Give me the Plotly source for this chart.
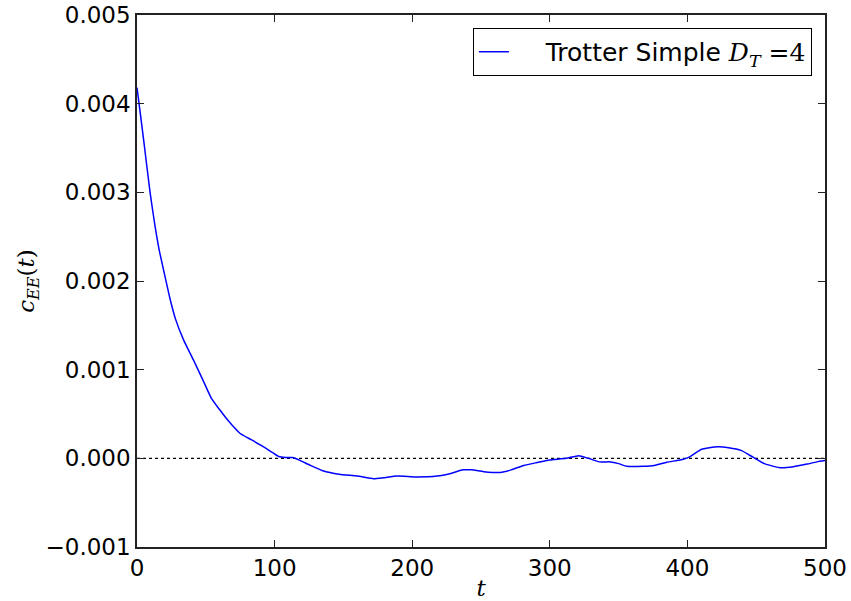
import plotly.graph_objects as go

# time values
t_vals = [0, 1.5, 5, 9.5, 13, 16, 20.5, 24, 28, 34, 41, 48, 54, 60, 65, 70, 75, 83, 92, 98,
          103, 108, 113, 118, 126, 135, 147, 160, 172, 179, 189, 203, 218, 228, 237, 243,
          252, 264, 272, 281, 290, 300, 312, 321, 328, 336, 344, 350, 356, 368, 376, 385,
          397, 402, 410, 422, 430, 439, 448, 456, 467, 477, 487, 494, 500]
# c_EE(t) in units of 1e-3
c_vals_milli = [4.18, 4.00, 3.57, 3.00, 2.63, 2.36, 2.04, 1.80, 1.57, 1.33, 1.11, 0.88, 0.68,
                0.55, 0.45, 0.36, 0.28, 0.21, 0.13, 0.07, 0.02, 0.01, 0.01, -0.02, -0.08,
                -0.14, -0.18, -0.20, -0.23, -0.22, -0.20, -0.21, -0.20, -0.17, -0.13, -0.13,
                -0.15, -0.16, -0.13, -0.08, -0.05, -0.02, 0.00, 0.03, 0.00, -0.04, -0.04,
                -0.06, -0.09, -0.09, -0.08, -0.045, -0.01, 0.02, 0.10, 0.13, 0.12, 0.09,
                0.01, -0.06, -0.105, -0.095, -0.065, -0.04, -0.025]
c_vals = [v * 1e-3 for v in c_vals_milli]

x_ticks = [0, 100, 200, 300, 400, 500]
y_ticks = [-0.001, 0.0, 0.001, 0.002, 0.003, 0.004, 0.005]
y_tick_text = ["\u22120.001", "0.000", "0.001", "0.002", "0.003", "0.004", "0.005"]

SERIF = "DejaVu Serif"
SANS = "DejaVu Sans"

legend_name = ('&nbsp;&nbsp;&nbsp;&nbsp;Trotter Simple ' + f'<span style="font-family:{SERIF};"><i>D</i>'
               '<sub><i>T</i></sub> =4</span>')

fig = go.Figure()
fig.add_trace(go.Scatter(x=t_vals, y=c_vals, mode="lines",
                         line=dict(color="#0000ff", width=1.5, shape="spline", smoothing=0.5),
                         name=legend_name, showlegend=True))

fig.add_shape(type="line", xref="paper", yref="y", x0=0, x1=1, y0=0, y1=0,
              line=dict(color="black", width=1.2, dash="dot"), layer="below")

axis_common = dict(showgrid=False, zeroline=False, showline=True, linecolor="#222",
                   linewidth=1.5, mirror="ticks", ticks="inside", ticklen=7,
                   tickwidth=1, tickcolor="#222", automargin=False,
                   tickfont=dict(family=SANS, size=23, color="black"))

fig.update_layout(
    width=851, height=601,
    margin=dict(l=137, r=26, t=15, b=54),
    paper_bgcolor="white", plot_bgcolor="white",
    font=dict(family=SANS, size=23, color="black"),
    xaxis=dict(range=[0, 500], tickvals=x_ticks, **axis_common,
               title=dict(text="<i>t</i>", font=dict(family=SERIF, size=23), standoff=2)),
    yaxis=dict(range=[-0.001, 0.005], tickvals=y_ticks, ticktext=y_tick_text, **axis_common,
               title=dict(text='<i>c</i><sub><i>EE</i></sub>(<i>t</i>)',
                          font=dict(family=SERIF, size=23), standoff=4)),
    legend=dict(x=0.981, y=0.9756, xanchor="right", yanchor="top",
                bordercolor="black", borderwidth=1, bgcolor="white",
                font=dict(family=SANS, size=25), itemwidth=30),
    showlegend=True,
)

fig.write_html("out.html", config={"displayModeBar": False},
               post_script="document.body.style.margin='0px';document.body.style.overflow='hidden';")
